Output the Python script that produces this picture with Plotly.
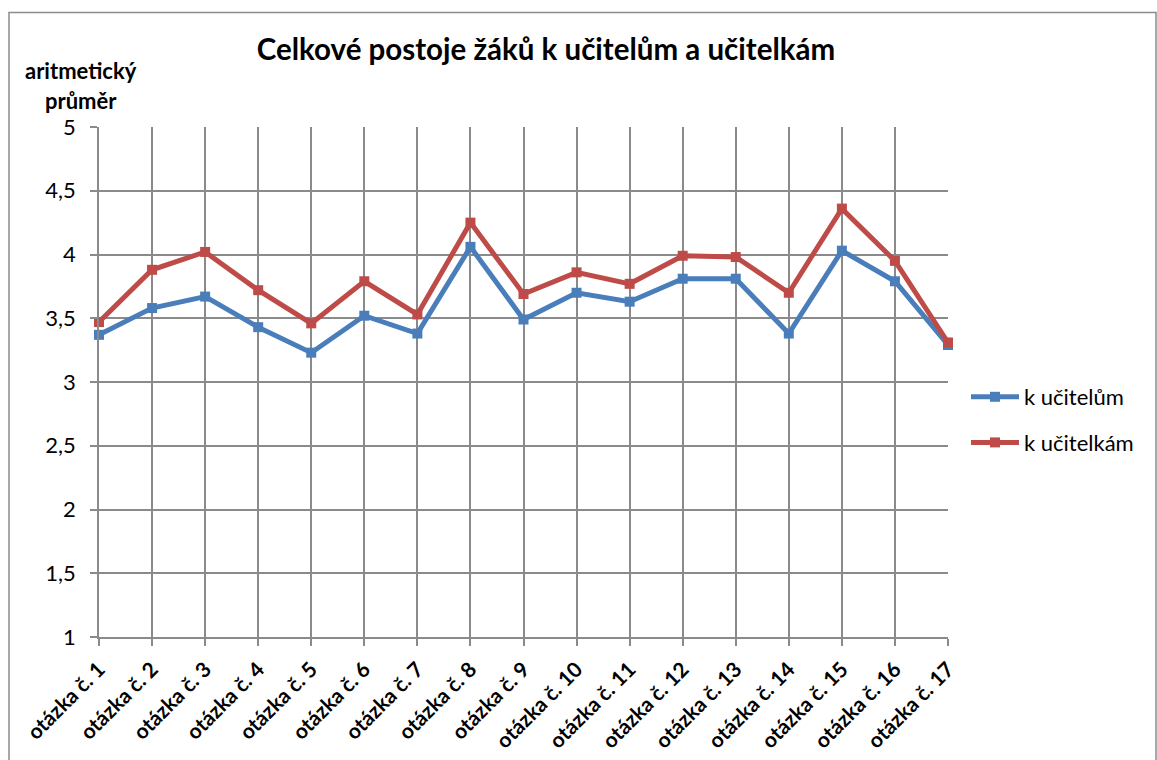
import plotly.graph_objects as go

categories = [f"otázka č. {i}" for i in range(1, 18)]
k_ucitelum = [3.37, 3.58, 3.67, 3.43, 3.23, 3.52, 3.38, 4.06, 3.49, 3.70, 3.63, 3.81, 3.81, 3.38, 4.03, 3.79, 3.29]
k_ucitelkam = [3.47, 3.88, 4.02, 3.72, 3.46, 3.79, 3.53, 4.25, 3.69, 3.86, 3.77, 3.99, 3.98, 3.70, 4.36, 3.95, 3.31]
y_ticks = [1, 1.5, 2, 2.5, 3, 3.5, 4, 4.5, 5]
y_tick_labels = ["1", "1,5", "2", "2,5", "3", "3,5", "4", "4,5", "5"]

W, H = 1157, 760
L, R, T, B = 99, 948, 127, 637
pw, ph = R - L, B - T

def px(x):
    return (x - L) / pw

def py(y):
    return (B - y) / ph

FONT = "Lato"
blue = "#4a7ebb"
red = "#be4b48"
grid = "#8a8a8a"

fig = go.Figure()
fig.add_trace(go.Scatter(
    x=categories, y=k_ucitelum, name="k učitelům", mode="lines+markers",
    line=dict(color=blue, width=5), marker=dict(symbol="square", size=10, color=blue),
    cliponaxis=False, legendgroup="a"))
fig.add_trace(go.Scatter(
    x=categories, y=k_ucitelkam, name="k učitelkám", mode="lines+markers",
    line=dict(color=red, width=5), marker=dict(symbol="square", size=10, color=red),
    cliponaxis=False, legendgroup="b"))

fig.update_layout(
    width=W, height=H,
    margin=dict(l=L, r=W - R, t=T, b=H - B, pad=0, autoexpand=False),
    paper_bgcolor="white", plot_bgcolor="white",
    separators=", ",
    font=dict(family=FONT, size=22, color="black"),
    title=dict(text="<b>Celkové postoje žáků k učitelům a učitelkám</b>",
               font=dict(family=FONT, size=29.5, color="black"),
               x=px(546), xref="paper", xanchor="center",
               y=1 - 50 / H, yanchor="middle"),
    showlegend=True,
    legend=dict(x=px(966), y=py(420), xanchor="left", yanchor="middle",
                font=dict(family=FONT, size=22, color="black"),
                traceorder="grouped", tracegroupgap=14, itemwidth=48,
                bgcolor="rgba(0,0,0,0)"),
    xaxis=dict(type="category", range=[0, len(categories) - 1], automargin=False,
               showgrid=True, gridcolor=grid, gridwidth=1.5,
               showline=True, linecolor=grid, linewidth=1.5,
               ticks="outside", ticklen=7, tickcolor=grid, tickwidth=1.5,
               ticklabelstandoff=3,
               tickangle=-45, tickfont=dict(family=FONT, size=21, color="black", weight="bold"),
               zeroline=False),
    yaxis=dict(range=[1, 5], tickvals=y_ticks, ticktext=y_tick_labels, automargin=False,
               showgrid=True, gridcolor=grid, gridwidth=1.5,
               showline=True, linecolor=grid, linewidth=1.5,
               ticks="outside", ticklen=7, tickcolor=grid, tickwidth=1.5,
               ticklabelstandoff=10,
               tickfont=dict(family=FONT, size=22, color="black"),
               zeroline=False),
)

fig.add_annotation(text="<b>aritmetický</b>", xref="paper", yref="paper",
                   x=px(81), y=py(71), xanchor="center", yanchor="middle",
                   showarrow=False, font=dict(family=FONT, size=22, color="black"))
fig.add_annotation(text="<b>průměr</b>", xref="paper", yref="paper",
                   x=px(81), y=py(101), xanchor="center", yanchor="middle",
                   showarrow=False, font=dict(family=FONT, size=22, color="black"))

fig.add_shape(type="rect", xref="paper", yref="paper",
              x0=px(9), x1=px(1156), y0=py(780), y1=py(12.5),
              line=dict(color="#8c8c8c", width=1.5), fillcolor="rgba(0,0,0,0)", layer="below")

fig.write_html("out.html")
